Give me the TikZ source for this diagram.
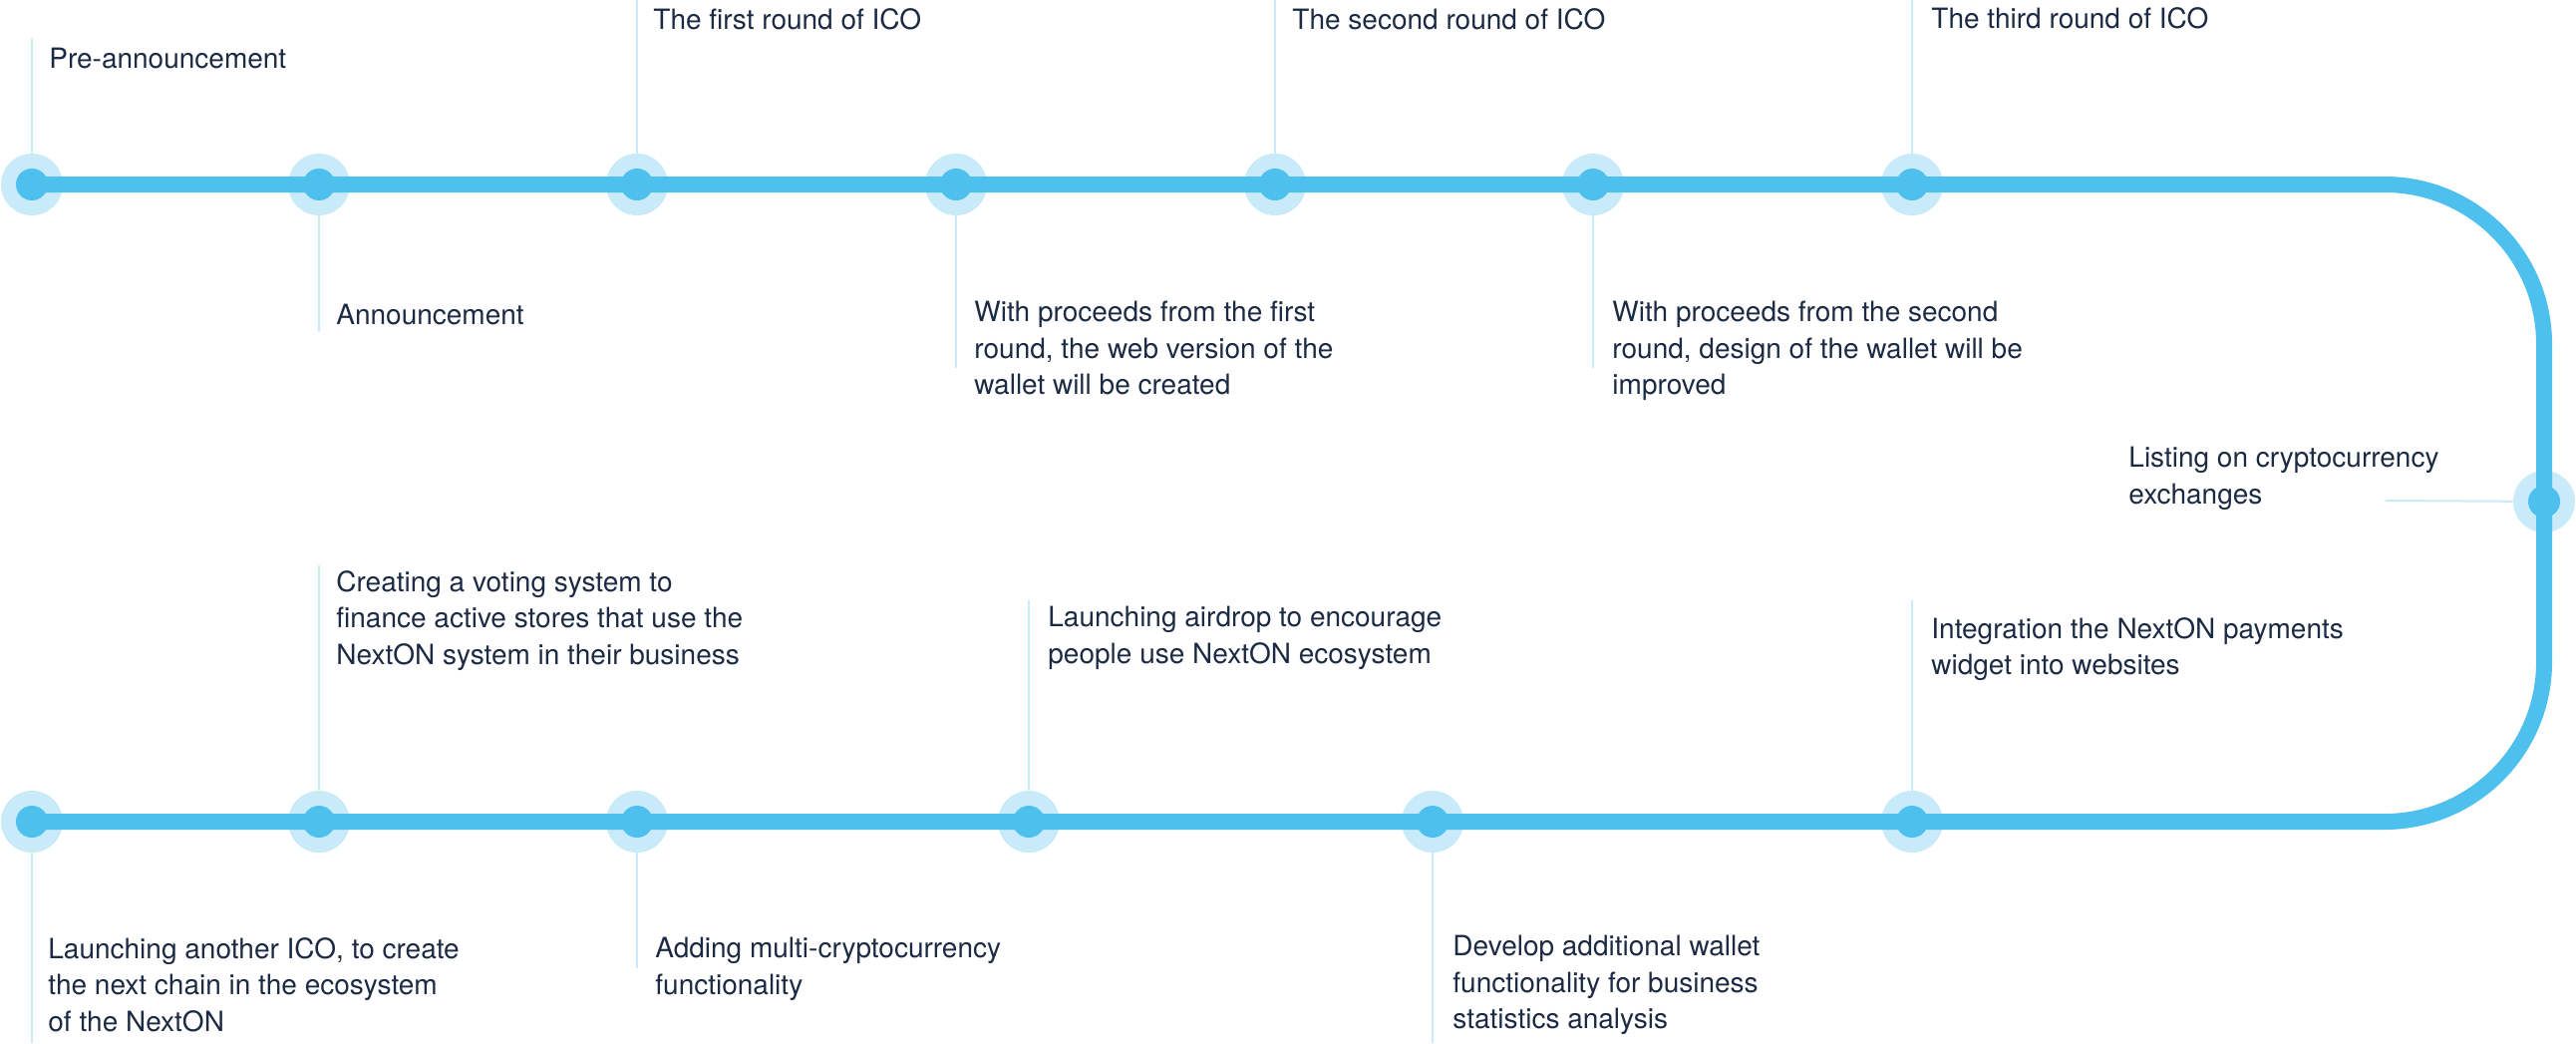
\documentclass[tikz,border=0pt]{standalone}
\usepackage{fontspec}
\setmainfont{TeX Gyre Heros}
\definecolor{trackblue}{HTML}{4DC0EE}
\definecolor{haloblue}{HTML}{C8EAF9}
\definecolor{inkblue}{HTML}{1C2A44}
\tikzset{%
  stop/.style  = {circle, fill=haloblue, inner sep=0pt, minimum size=31pt,%
                  path picture={\fill[trackblue] (path picture bounding box.center) circle (8pt);}},%
  track/.style = {draw=trackblue, line width=8pt, rounded corners=80pt},%
  tick/.style  = {draw=haloblue, line width=1pt},%
  note/.style  = {anchor=north west, inner sep=0pt, align=left, text=inkblue,%
                  font=\fontsize{14pt}{18.25pt}\selectfont}%
}

\begin{document}
\begin{tikzpicture}[x=0.5pt,y=-0.5pt]
	\useasboundingbox (0,0) rectangle (2584,1046);
	% stops on the upper line
	\node[stop] (t1) at (32,185) {};
	\node[stop] (t2) at (320,185) {};
	\node[stop] (t3) at (639,185) {};
	\node[stop] (t4) at (959,185) {};
	\node[stop] (t5) at (1279,185) {};
	\node[stop] (t6) at (1598,185) {};
	\node[stop] (t7) at (1918,185) {};
	% stop on the bend
	\node[stop] (lst) at (2552,503) {};
	% stops on the lower line
	\node[stop] (b1) at (32,824) {};
	\node[stop] (b2) at (320,824) {};
	\node[stop] (b3) at (639,824) {};
	\node[stop] (b4) at (1032,824) {};
	\node[stop] (b5) at (1437,824) {};
	\node[stop] (b6) at (1918,824) {};
	% the track
	\coordinate (ne) at (2552,185);
	\coordinate (se) at (2552,824);
	\draw[track] (t1.center) -- (ne) -- (se) -- (b1.center);
	% ticks
	\coordinate (t1e) at (32,38);
	\coordinate (t2e) at (320,333);
	\coordinate (t3e) at (639,0);
	\coordinate (t4e) at (959,369);
	\coordinate (t5e) at (1279,0);
	\coordinate (t6e) at (1598,369);
	\coordinate (t7e) at (1918,0);
	\coordinate (lste) at (2393,502);
	\coordinate (b1e) at (32,1046);
	\coordinate (b2e) at (320,567);
	\coordinate (b3e) at (639,971);
	\coordinate (b4e) at (1032,602);
	\coordinate (b5e) at (1437,1046);
	\coordinate (b6e) at (1918,602);
	\draw[tick] (t1) -- (t1e);
	\draw[tick] (t2) -- (t2e);
	\draw[tick] (t3) -- (t3e);
	\draw[tick] (t4) -- (t4e);
	\draw[tick] (t5) -- (t5e);
	\draw[tick] (t6) -- (t6e);
	\draw[tick] (t7) -- (t7e);
	\draw[tick] (lst) -- (lste);
	\draw[tick] (b1) -- (b1e);
	\draw[tick] (b2) -- (b2e);
	\draw[tick] (b3) -- (b3e);
	\draw[tick] (b4) -- (b4e);
	\draw[tick] (b5) -- (b5e);
	\draw[tick] (b6) -- (b6e);
	% texts
	\node[note] (t1n) at (49,48) {Pre-announcement};
	\node[note] (t2n) at (337,305) {Announcement};
	\node[note] (t3n) at (655,8) {The first round of ICO};
	\node[note] (t4n) at (977,302) {With proceeds from the first\\round, the web version of the\\wallet will be created};
	\node[note] (t5n) at (1296,8) {The second round of ICO};
	\node[note] (t6n) at (1617,302) {With proceeds from the second\\round, design of the wallet will be\\improved};
	\node[note] (t7n) at (1937,7) {The third round of ICO};
	\node[note] (lstn) at (2135,448) {Listing on cryptocurrency\\exchanges};
	\node[note] (b1n) at (48,940) {Launching another ICO, to create\\the next chain in the ecosystem\\of the NextON};
	\node[note] (b2n) at (337,572) {Creating a voting system to\\finance active stores that use the\\NextON system in their business};
	\node[note] (b3n) at (657,940) {Adding multi-cryptocurrency\\functionality};
	\node[note] (b4n) at (1051,608) {Launching airdrop to encourage\\people use NextON ecosystem};
	\node[note] (b5n) at (1457,938) {Develop additional wallet\\functionality for business\\statistics analysis};
	\node[note] (b6n) at (1937,619) {Integration the NextON payments\\widget into websites};
\end{tikzpicture}
\end{document}
